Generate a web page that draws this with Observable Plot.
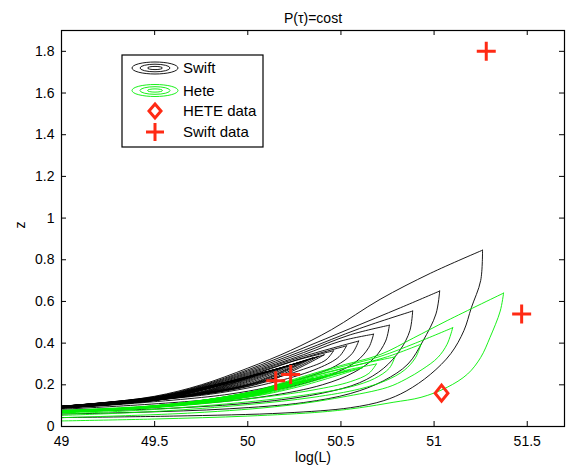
<!DOCTYPE html>
<html>
<head>
<meta charset="utf-8">
<script src="https://cdn.jsdelivr.net/npm/d3@7"></script>
<script src="https://cdn.jsdelivr.net/npm/@observablehq/plot@0.6"></script>
<style>
  html, body { margin: 0; padding: 0; background: white; }
</style>
</head>
<body>
<div id="chart"></div>
<script>
// ---------------- data ----------------
const titleText = "P(\u03C4)=cost";
const xLabel = "log(L)";
const yLabel = "z";
const xTicks = [49, 49.5, 50, 50.5, 51, 51.5];
const yTicks = [0, 0.2, 0.4, 0.6, 0.8, 1, 1.2, 1.4, 1.6, 1.8];
const xDomain = [49, 51.7];
const yDomain = [0, 1.9];

// data points
const swiftDataL = [51.28, 51.47, 50.15, 50.23];
const swiftDataZ = [1.8, 0.54, 0.22, 0.25];
const heteDataL = [51.04];
const heteDataZ = [0.16];

// Swift contours (black): upper edge (left -> tip), lower edge (tip -> left)
const swiftUpper = [
  [[48.9,0.09],[49.2,0.112],[49.5,0.145],[49.75,0.2],[50.0,0.28],[50.23,0.365],[50.45,0.465],[50.71,0.61],[50.98,0.735],[51.26,0.846]],
  [[48.9,0.09],[49.5,0.143],[49.75,0.196],[50.0,0.272],[50.28,0.37],[50.55,0.47],[50.82,0.57],[51.03,0.65]],
  [[48.9,0.09],[49.5,0.141],[49.75,0.193],[50.0,0.266],[50.3,0.365],[50.6,0.47],[50.885,0.554]],
  [[48.9,0.09],[49.5,0.14],[49.75,0.19],[50.0,0.26],[50.3,0.355],[50.55,0.44],[50.76,0.486]],
  [[48.9,0.09],[49.5,0.139],[49.75,0.187],[50.0,0.255],[50.3,0.345],[50.5,0.41],[50.675,0.443]],
  [[48.9,0.09],[49.5,0.138],[49.75,0.184],[50.0,0.25],[50.3,0.337],[50.595,0.41]],
  [[48.9,0.09],[49.5,0.137],[49.75,0.181],[50.0,0.245],[50.3,0.33],[50.53,0.387]],
  [[48.9,0.09],[49.5,0.136],[49.75,0.178],[50.0,0.24],[50.25,0.315],[50.46,0.363]],
  [[48.9,0.09],[49.5,0.135],[50.1,0.262],[50.41,0.344]],
  [[48.9,0.09],[49.5,0.1345],[50.075,0.255],[50.38,0.337]],
  [[48.9,0.09],[49.5,0.134],[50.05,0.248],[50.35,0.33]],
  [[48.9,0.09],[49.5,0.1335],[50.025,0.2415],[50.32,0.32]],
  [[48.9,0.09],[49.5,0.133],[50.0,0.235],[50.29,0.31]],
  [[48.9,0.09],[49.5,0.1325],[49.965,0.2275],[50.26,0.303]],
  [[48.9,0.09],[49.5,0.132],[49.93,0.22],[50.23,0.296]],
  [[48.9,0.09],[49.5,0.1315],[49.895,0.213],[50.195,0.286]],
  [[48.9,0.09],[49.5,0.131],[49.86,0.206],[50.16,0.277]],
  [[48.9,0.09],[49.5,0.1305],[49.83,0.1995],[50.13,0.27]],
  [[48.9,0.09],[49.5,0.13],[49.8,0.193],[50.10,0.263]],
  [[48.9,0.09],[49.5,0.1295],[49.77,0.1865],[50.07,0.253]],
  [[48.9,0.09],[49.5,0.129],[49.74,0.18],[50.04,0.244]],
  [[48.9,0.09],[49.5,0.1285],[49.7,0.174],[50.0,0.234]],
  [[48.9,0.09],[49.5,0.128],[49.66,0.168],[49.96,0.225]],
  [[48.9,0.09],[49.4,0.12],[49.63,0.16],[49.92,0.215]],
  [[48.9,0.09],[49.3,0.112],[49.6,0.152],[49.88,0.205]],
  [[48.9,0.09],[49.28,0.11],[49.56,0.147],[49.84,0.195]],
  [[48.9,0.09],[49.25,0.108],[49.52,0.142],[49.8,0.186]],
  [[48.9,0.09],[49.48,0.137],[49.76,0.179]],
  [[48.9,0.09],[49.45,0.133],[49.72,0.172]],
  [[48.9,0.09],[49.41,0.128],[49.68,0.165]],
  [[48.9,0.09],[49.38,0.124],[49.64,0.158]],
  [[48.9,0.09],[49.34,0.12],[49.6,0.15]],
  [[48.9,0.09],[49.3,0.116],[49.56,0.143]],
  [[48.9,0.09],[49.26,0.112],[49.52,0.138]],
  [[48.9,0.09],[49.22,0.108],[49.48,0.134]],
  [[48.9,0.09],[49.18,0.105],[49.44,0.129]],
  [[48.9,0.09],[49.15,0.103],[49.40,0.124]],
  [[48.9,0.09],[49.12,0.101],[49.36,0.12]],
  [[48.9,0.09],[49.1,0.099],[49.32,0.115]],
  [[48.9,0.09],[49.07,0.097],[49.28,0.11]],
  [[48.9,0.09],[49.05,0.095],[49.24,0.105]]
];
const swiftLower = [
  [[51.26,0.846],[51.25,0.70],[51.20,0.57],[51.16,0.46],[51.09,0.35],[50.98,0.25],[50.85,0.17],[50.73,0.124],[50.55,0.09],[50.2,0.065],[49.6,0.05],[48.9,0.042]],
  [[51.03,0.65],[51.01,0.54],[50.94,0.41],[50.86,0.30],[50.73,0.22],[50.55,0.158],[50.3,0.115],[49.9,0.085],[49.4,0.068],[48.9,0.058]],
  [[50.885,0.554],[50.87,0.46],[50.82,0.37],[50.73,0.28],[50.6,0.21],[50.4,0.16],[50.1,0.12],[49.6,0.088],[48.9,0.068]],
  [[50.76,0.486],[50.74,0.41],[50.68,0.33],[50.57,0.26],[50.4,0.2],[50.1,0.145],[49.6,0.1],[48.9,0.074]],
  [[50.675,0.443],[50.65,0.38],[50.58,0.31],[50.45,0.25],[50.2,0.185],[49.8,0.13],[48.9,0.078]],
  [[50.595,0.41],[50.56,0.35],[50.47,0.29],[50.25,0.22],[49.9,0.155],[48.9,0.08]],
  [[50.53,0.387],[50.49,0.335],[50.38,0.28],[50.15,0.215],[49.8,0.155],[48.9,0.082]],
  [[50.46,0.363],[50.42,0.32],[50.3,0.275],[50.05,0.21],[49.7,0.15],[48.9,0.084]],
  [[50.41,0.344],[50.1,0.215],[49.5,0.125],[48.9,0.086]],
  [[50.38,0.337],[50.075,0.212],[49.5,0.1255],[48.9,0.086]],
  [[50.35,0.33],[50.05,0.21],[49.5,0.126],[48.9,0.086]],
  [[50.32,0.32],[50.025,0.206],[49.5,0.1265],[48.9,0.086]],
  [[50.29,0.31],[50.0,0.202],[49.5,0.127],[48.9,0.086]],
  [[50.26,0.303],[49.965,0.1975],[49.5,0.127],[48.9,0.086]],
  [[50.23,0.296],[49.93,0.193],[49.5,0.127],[48.9,0.086]],
  [[50.195,0.286],[49.895,0.188],[49.5,0.127],[48.9,0.086]],
  [[50.16,0.277],[49.86,0.183],[49.5,0.127],[48.9,0.086]],
  [[50.13,0.27],[49.83,0.1785],[49.5,0.127],[48.9,0.086]],
  [[50.10,0.263],[49.8,0.174],[49.5,0.127],[48.9,0.086]],
  [[50.07,0.253],[49.77,0.1695],[49.5,0.1265],[48.9,0.086]],
  [[50.04,0.244],[49.74,0.165],[49.5,0.126],[48.9,0.086]],
  [[50.0,0.234],[49.7,0.1605],[49.5,0.1255],[48.9,0.086]],
  [[49.96,0.225],[49.66,0.156],[49.5,0.125],[48.9,0.086]],
  [[49.92,0.215],[49.63,0.149],[49.4,0.116],[48.9,0.086]],
  [[49.88,0.205],[49.6,0.142],[49.3,0.108],[48.9,0.086]],
  [[49.84,0.195],[49.56,0.1375],[49.28,0.106],[48.9,0.086]],
  [[49.8,0.186],[49.52,0.133],[49.25,0.104],[48.9,0.086]],
  [[49.76,0.179],[49.48,0.13],[48.9,0.086]],
  [[49.72,0.172],[49.45,0.126],[48.9,0.086]],
  [[49.68,0.165],[49.41,0.122],[48.9,0.086]],
  [[49.64,0.158],[49.38,0.118],[48.9,0.086]],
  [[49.6,0.15],[49.34,0.1145],[48.9,0.086]],
  [[49.56,0.143],[49.3,0.111],[48.9,0.086]],
  [[49.52,0.138],[49.26,0.1075],[48.9,0.086]],
  [[49.48,0.134],[49.22,0.104],[48.9,0.086]],
  [[49.44,0.129],[49.18,0.1015],[48.9,0.086]],
  [[49.40,0.124],[49.15,0.099],[48.9,0.086]],
  [[49.36,0.12],[49.12,0.0975],[48.9,0.086]],
  [[49.32,0.115],[49.1,0.096],[48.9,0.086]],
  [[49.28,0.11],[49.07,0.094],[48.9,0.086]],
  [[49.24,0.105],[49.05,0.092],[48.9,0.086]]
];

// Hete contours (green)
const heteUpper = [
  [[48.9,0.074],[49.5,0.1],[49.75,0.125],[50.0,0.162],[50.23,0.222],[50.46,0.283],[50.71,0.345],[50.89,0.425],[51.07,0.508],[51.373,0.64]],
  [[48.9,0.073],[49.5,0.099],[50.0,0.16],[50.23,0.218],[50.46,0.277],[50.71,0.336],[50.9,0.40],[51.10,0.474]],
  [[48.9,0.072],[49.5,0.098],[50.0,0.158],[50.23,0.215],[50.5,0.275],[50.75,0.335],[50.93,0.395]],
  [[48.9,0.071],[49.5,0.097],[50.0,0.156],[50.2,0.205],[50.4,0.255],[50.6,0.298],[50.79,0.334]],
  [[48.9,0.07],[49.5,0.096],[50.0,0.154],[50.25,0.215],[50.5,0.265],[50.69,0.30]],
  [[48.9,0.069],[49.5,0.095],[50.0,0.152],[50.27,0.21],[50.615,0.282]],
  [[48.9,0.069],[49.5,0.095],[50.0,0.15],[50.2,0.195],[50.54,0.268]],
  [[48.9,0.069],[49.5,0.095],[50.0,0.149],[50.12,0.178],[50.47,0.253]],
  [[48.9,0.069],[49.5,0.095],[50.0,0.1485],[50.43,0.246]],
  [[48.9,0.069],[49.5,0.095],[50.0,0.148],[50.39,0.239]],
  [[48.9,0.069],[49.5,0.095],[49.95,0.141],[50.35,0.232]],
  [[48.9,0.069],[49.5,0.095],[49.9,0.135],[50.31,0.224]],
  [[48.9,0.069],[49.5,0.095],[49.85,0.13],[50.27,0.215]],
  [[48.9,0.069],[49.5,0.095],[49.8,0.124],[50.22,0.205]],
  [[48.9,0.069],[49.5,0.095],[49.75,0.12],[50.16,0.193]],
  [[48.9,0.069],[49.5,0.095],[49.7,0.115],[50.1,0.18]],
  [[48.9,0.069],[49.5,0.0945],[50.03,0.166]],
  [[48.9,0.069],[49.5,0.094],[49.95,0.152]],
  [[48.9,0.069],[49.42,0.091],[49.85,0.137]],
  [[48.9,0.069],[49.35,0.088],[49.75,0.122]],
  [[48.9,0.069],[49.27,0.084],[49.62,0.109]],
  [[48.9,0.069],[49.2,0.08],[49.5,0.096]]
];
const heteLower = [
  [[51.373,0.64],[51.355,0.554],[51.30,0.427],[51.25,0.331],[51.18,0.252],[51.07,0.188],[50.93,0.14],[50.78,0.116],[50.6,0.09],[50.4,0.07],[50.0,0.05],[49.5,0.036],[48.9,0.025]],
  [[51.10,0.474],[51.07,0.395],[51.02,0.331],[50.94,0.276],[50.85,0.228],[50.75,0.188],[50.5,0.14],[50.2,0.1],[49.7,0.065],[48.9,0.04]],
  [[50.93,0.395],[50.9,0.33],[50.84,0.27],[50.74,0.22],[50.6,0.18],[50.35,0.14],[50.0,0.105],[49.5,0.072],[48.9,0.05]],
  [[50.79,0.334],[50.76,0.28],[50.68,0.23],[50.55,0.19],[50.3,0.15],[50.0,0.118],[49.5,0.082],[48.9,0.056]],
  [[50.69,0.30],[50.65,0.255],[50.55,0.215],[50.35,0.175],[50.0,0.132],[49.5,0.09],[48.9,0.06]],
  [[50.615,0.282],[50.27,0.19],[50.0,0.14],[49.5,0.093],[48.9,0.063]],
  [[50.54,0.268],[50.2,0.18],[50.0,0.142],[49.5,0.093],[48.9,0.064]],
  [[50.47,0.253],[50.12,0.168],[50.0,0.143],[49.5,0.093],[48.9,0.065]],
  [[50.43,0.246],[50.0,0.1435],[49.5,0.0935],[48.9,0.065]],
  [[50.39,0.239],[50.0,0.144],[49.5,0.094],[48.9,0.065]],
  [[50.35,0.232],[49.95,0.137],[49.5,0.094],[48.9,0.0655]],
  [[50.31,0.224],[49.9,0.13],[49.5,0.094],[48.9,0.066]],
  [[50.27,0.215],[49.85,0.125],[49.5,0.094],[48.9,0.066]],
  [[50.22,0.205],[49.8,0.12],[49.5,0.094],[48.9,0.066]],
  [[50.16,0.193],[49.75,0.1155],[49.5,0.094],[48.9,0.066]],
  [[50.1,0.18],[49.7,0.111],[49.5,0.094],[48.9,0.066]],
  [[50.03,0.166],[49.5,0.093],[48.9,0.066]],
  [[49.95,0.152],[49.5,0.092],[48.9,0.066]],
  [[49.85,0.137],[49.42,0.089],[48.9,0.066]],
  [[49.75,0.122],[49.35,0.086],[48.9,0.066]],
  [[49.62,0.109],[49.27,0.082],[48.9,0.0665]],
  [[49.5,0.096],[49.2,0.078],[48.9,0.067]]
];

const legendLabels = ["Swift", "Hete", "HETE data", "Swift data"];

// ---------------- build rows ----------------
function rowsFrom(upper, lower, prefix) {
  const rows = [];
  upper.forEach((pts, i) => pts.forEach(([x, z]) => rows.push({x, z, id: `${prefix}${i}u`})));
  lower.forEach((pts, i) => pts.forEach(([x, z]) => rows.push({x, z, id: `${prefix}${i}l`})));
  return rows;
}
const swiftRows = rowsFrom(swiftUpper, swiftLower, "s");
const heteRows = rowsFrom(heteUpper, heteLower, "h");
const swiftPts = swiftDataL.map((x, i) => ({x, z: swiftDataZ[i]}));
const hetePts = heteDataL.map((x, i) => ({x, z: heteDataZ[i]}));

const RED = "#ff2a14";
const GREEN = "#00ee00";
const FONT = "'Liberation Sans', Arial, Helvetica, sans-serif";

const plusSymbol = {
  draw(ctx, size) {
    const r = Math.sqrt(size / Math.PI);
    ctx.moveTo(-r, 0); ctx.lineTo(r, 0);
    ctx.moveTo(0, -r); ctx.lineTo(0, r);
  }
};
const diamondSymbol = {
  draw(ctx, size) {
    const r = Math.sqrt(size / Math.PI);
    const w = r * 0.8;
    ctx.moveTo(0, -r); ctx.lineTo(w, 0); ctx.lineTo(0, r); ctx.lineTo(-w, 0); ctx.closePath();
  }
};

const W = 577, H = 472;
const mL = 61, mR = 13, mT = 30, mB = 46;
const plotW = W - mL - mR, plotH = H - mT - mB;

const chart = Plot.plot({
  width: W, height: H,
  marginLeft: mL, marginRight: mR, marginTop: mT, marginBottom: mB,
  style: {fontFamily: FONT, fontSize: "14px", background: "white", color: "black"},
  x: {domain: xDomain},
  y: {domain: yDomain},
  marks: [
    Plot.line(swiftRows, {x: "x", y: "z", z: "id", stroke: "black", strokeWidth: 0.9, curve: "catmull-rom", clip: true}),
    Plot.line(heteRows, {x: "x", y: "z", z: "id", stroke: GREEN, strokeWidth: 0.9, curve: "catmull-rom", clip: true}),
    Plot.dot(hetePts, {x: "x", y: "z", symbol: diamondSymbol, r: 8, stroke: RED, strokeWidth: 3, fill: "none"}),
    Plot.dot(swiftPts, {x: "x", y: "z", symbol: plusSymbol, r: 9.5, stroke: RED, strokeWidth: 3, fill: "none"}),
    Plot.frame({stroke: "black", strokeWidth: 1.2}),
    Plot.tickX(xTicks, {x: d => d, insetTop: plotH - 5, stroke: "black"}),
    Plot.tickX(xTicks, {x: d => d, insetBottom: plotH - 5, stroke: "black"}),
    Plot.tickY(yTicks, {y: d => d, insetRight: plotW - 5, stroke: "black"}),
    Plot.tickY(yTicks, {y: d => d, insetLeft: plotW - 5, stroke: "black"}),
    Plot.axisX({ticks: xTicks, tickSize: 0, tickPadding: 10, label: null, tickFormat: d => String(d)}),
    Plot.axisY({ticks: yTicks, tickSize: 0, tickPadding: 7, label: null, tickFormat: d => String(d)}),
    Plot.text([titleText], {frameAnchor: "top", dy: -17, fontSize: 14}),
    Plot.text([xLabel], {frameAnchor: "bottom", dy: 35, fontSize: 14}),
    Plot.text([yLabel], {frameAnchor: "left", dx: -41, rotate: -90, fontSize: 14})
  ]
});
document.getElementById("chart").appendChild(chart);

// ---------------- legend ----------------
const svg = d3.select(chart);
const lg = svg.append("g").attr("font-family", FONT).attr("font-size", 15).attr("text-anchor", "start");
lg.append("rect").attr("x", 122).attr("y", 55).attr("width", 141).attr("height", 92)
  .attr("fill", "white").attr("stroke", "black").attr("stroke-width", 1.2);
const rowsY = [68, 90.5, 111, 132];
const symX = 155, txtX = 183;
[[23, 6], [15, 3.8], [7.5, 1.6]].forEach(([rx, ry]) => {
  lg.append("ellipse").attr("cx", symX).attr("cy", rowsY[0]).attr("rx", rx).attr("ry", ry)
    .attr("fill", "none").attr("stroke", "black").attr("stroke-width", 0.9);
  lg.append("ellipse").attr("cx", symX).attr("cy", rowsY[1]).attr("rx", rx).attr("ry", ry)
    .attr("fill", "none").attr("stroke", GREEN).attr("stroke-width", 0.9);
});
lg.append("path").attr("d", `M${symX},${rowsY[2]-7}L${symX+6},${rowsY[2]}L${symX},${rowsY[2]+7}L${symX-6},${rowsY[2]}Z`)
  .attr("fill", "none").attr("stroke", RED).attr("stroke-width", 3);
lg.append("path").attr("d", `M${symX-9},${rowsY[3]}H${symX+9}M${symX},${rowsY[3]-9}V${rowsY[3]+9}`)
  .attr("fill", "none").attr("stroke", RED).attr("stroke-width", 3);
legendLabels.forEach((t, i) => {
  lg.append("text").attr("x", txtX).attr("y", rowsY[i]).attr("dy", "0.35em").attr("text-anchor", "start").text(t);
});
</script>
</body>
</html>
